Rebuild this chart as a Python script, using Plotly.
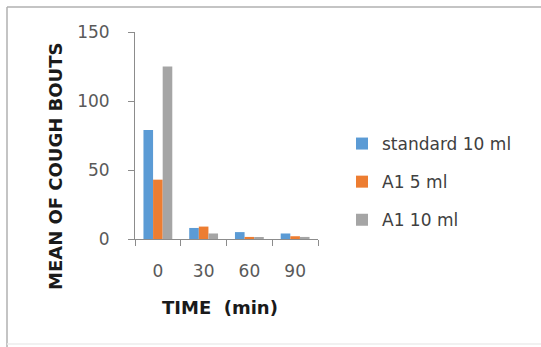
import plotly.graph_objects as go

categories = ["0", "30", "60", "90"]
series_names = ["standard 10 ml", "A1 5 ml", "A1 10 ml"]
standard_10 = [79, 8, 5, 4]
a1_5 = [43, 9, 1.5, 2]
a1_10 = [125, 4, 1, 1.5]
y_ticks = [0, 50, 100, 150]

colors = ["#5B9BD5", "#ED7D31", "#A5A5A5"]
values = [standard_10, a1_5, a1_10]

fig = go.Figure()
for name, vals, col in zip(series_names, values, colors):
    fig.add_trace(go.Bar(x=categories, y=vals, name=name, marker_color=col,
                         marker_line_width=0, legendgroup=name))

W, H = 541, 347
L, R, T, B = 135, 318, 32, 239
pw, ph = R - L, B - T

def px(x):
    return (x - L) / pw

def py(y):
    return (B - y) / ph

border = dict(color="#b0b0b0", width=1.5)
fig.update_layout(
    width=W, height=H,
    margin=dict(l=L, r=W - R, t=T, b=H - B, pad=0),
    paper_bgcolor="white", plot_bgcolor="white",
    barmode="group", bargap=0.37, bargroupgap=0,
    font=dict(family="DejaVu Sans", size=17, color="#595959"),
    showlegend=True,
    legend=dict(x=px(342), y=py(126), xanchor="left", yanchor="top",
                font=dict(family="DejaVu Sans", size=17, color="#404040"),
                tracegroupgap=13, itemwidth=30, bgcolor="rgba(0,0,0,0)"),
    xaxis=dict(type="category", showline=True, linecolor="#8c8c8c", linewidth=1,
               ticks="outside", tickson="boundaries", ticklen=6, tickcolor="#8c8c8c",
               showgrid=False, ticklabelstandoff=17,
               tickfont=dict(size=17, color="#595959")),
    yaxis=dict(range=[0, 150], tickvals=y_ticks, showline=True, linecolor="#8c8c8c",
               linewidth=1, ticks="outside", ticklen=6, tickcolor="#8c8c8c",
               showgrid=False, zeroline=False, ticklabelstandoff=15,
               tickfont=dict(size=17, color="#595959")),
    annotations=[
        dict(text="<b>MEAN OF COUGH BOUTS</b>", textangle=-90, xref="paper", yref="paper",
             x=px(55), y=py(167), xanchor="center", yanchor="middle", showarrow=False,
             font=dict(family="DejaVu Sans", size=18, color="#1a1a1a")),
        dict(text="<b>TIME  (min)</b>", xref="paper", yref="paper",
             x=px(220), y=py(307), xanchor="center", yanchor="middle", showarrow=False,
             font=dict(family="DejaVu Sans", size=18, color="#1a1a1a")),
    ],
    shapes=[
        dict(type="line", xref="paper", yref="paper", x0=px(7), x1=px(541),
             y0=py(7), y1=py(7), line=border, layer="below"),
        dict(type="line", xref="paper", yref="paper", x0=px(7), x1=px(7),
             y0=py(7), y1=py(347), line=border, layer="below"),
        dict(type="line", xref="paper", yref="paper", x0=px(7), x1=px(541),
             y0=py(344), y1=py(344), line=dict(color="#ececec", width=1.5), layer="below"),
    ],
)

fig.write_html("out.html")
